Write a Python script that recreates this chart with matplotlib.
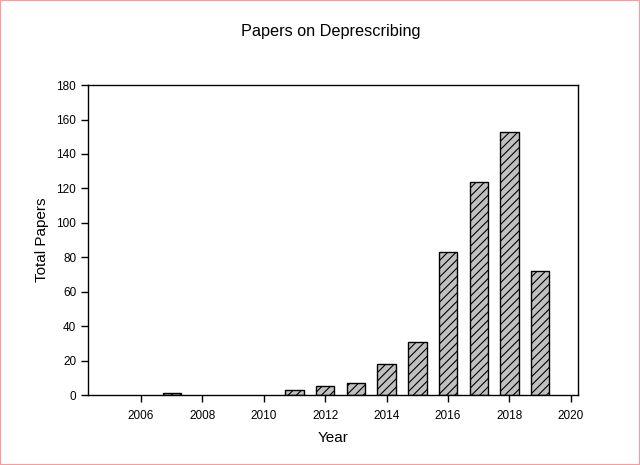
import matplotlib
matplotlib.use("Agg")
import matplotlib.pyplot as plt
from matplotlib.patches import Rectangle

plt.rcParams['font.family'] = ['Liberation Sans', 'DejaVu Sans']
plt.rcParams['hatch.linewidth'] = 0.8

years = [2007, 2011, 2012, 2013, 2014, 2015, 2016, 2017, 2018, 2019]
papers = [1, 3, 5, 7, 18, 31, 83, 124, 153, 72]
x_ticks = list(range(2006, 2021, 2))
y_ticks = list(range(0, 181, 20))

fig = plt.figure(figsize=(6.4, 4.65), dpi=100)
ax = fig.add_axes([0.1375, 0.1505, 0.7655, 0.6665])

ax.bar(years, papers, width=0.6, color='#c0c0c0', edgecolor='black',
       linewidth=1.0, hatch='////')

ax.set_xlim(2004.27, 2020.23)
ax.set_ylim(0, 180)
ax.set_xticks(x_ticks)
ax.set_yticks(y_ticks)
ax.tick_params(direction='out', length=5, width=1, labelsize=8.5)
ax.tick_params(axis='x', pad=6)
for s in ax.spines.values():
    s.set_linewidth(1)

ax.set_xlabel('Year', fontsize=11, labelpad=6)
ax.set_ylabel('Total Papers', fontsize=11, labelpad=5)
fig.text(0.517, 0.933, 'Papers on Deprescribing', ha='center', va='center', fontsize=11.7)

fig.patches.append(Rectangle((0, 0), 1, 1, transform=fig.transFigure, fill=False,
                             edgecolor='#ff9999', linewidth=1.5))

fig.savefig('out.png', dpi=100)
